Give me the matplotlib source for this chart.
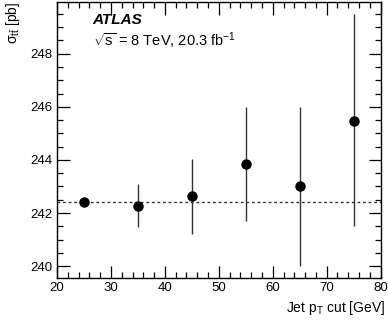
import matplotlib.pyplot as plt
import numpy as np
from matplotlib.ticker import MultipleLocator

plt.rcParams['font.family'] = ['Liberation Sans', 'DejaVu Sans']
plt.rcParams['mathtext.fontset'] = 'custom'
plt.rcParams['mathtext.rm'] = 'Liberation Sans'
plt.rcParams['mathtext.it'] = 'Liberation Sans:italic'

# jet pT cut [GeV] and measured cross section [pb]
pt_cut = [25, 35, 45, 55, 65, 75]
sigma = [242.43, 242.28, 242.63, 243.85, 243.0, 245.47]
err_up = [0.0, 0.80, 1.42, 2.15, 3.0, 4.02]
err_dn = [0.0, 0.81, 1.41, 2.16, 3.0, 3.97]
nominal = 242.43

fig = plt.figure(figsize=(3.88, 3.23), dpi=100)
ax = fig.add_axes([0.147, 0.139, 0.834, 0.855])

ax.errorbar(pt_cut, sigma, yerr=[err_dn, err_up], fmt='o', color='black',
            ecolor='#333333', elinewidth=1.0, markersize=6.5, capsize=0, zorder=3)
ax.axhline(nominal, color='#333333', linestyle=(0, (2, 2)), linewidth=1.0)

ax.set_xlim(20, 80)
ax.set_ylim(239.55, 249.95)

ax.xaxis.set_major_locator(MultipleLocator(10))
ax.xaxis.set_minor_locator(MultipleLocator(2))
ax.yaxis.set_major_locator(MultipleLocator(2))
ax.yaxis.set_minor_locator(MultipleLocator(0.5))
ax.tick_params(which='both', direction='in', top=True, right=True, labelsize=9.5, width=0.9)
ax.tick_params(which='major', length=9)
ax.tick_params(which='minor', length=4.5)
ax.tick_params(axis='x', which='major', pad=3)
for s in ax.spines.values():
    s.set_linewidth(1.0)

# axis titles placed like the ROOT original
fig.text(385 / 388, 1 - 312 / 323, r'Jet p$_\mathrm{T}$ cut [GeV]', ha='right',
         va='baseline', fontsize=10)
fig.text(13 / 388, 1 - 2 / 323, r'σ$_{\mathrm{t\bar{t}}}$ [pb]', rotation=90,
         ha='center', va='top', fontsize=10)

ax.text(0.11, 0.92, 'ATLAS', transform=ax.transAxes, fontsize=11,
        fontweight='bold', fontstyle='italic')
ax.text(0.11, 0.84, r'$\sqrt{\mathrm{s}}$ = 8 TeV, 20.3 fb$^{-1}$',
        transform=ax.transAxes, fontsize=10.5)

fig.savefig('out.png', dpi=100)
